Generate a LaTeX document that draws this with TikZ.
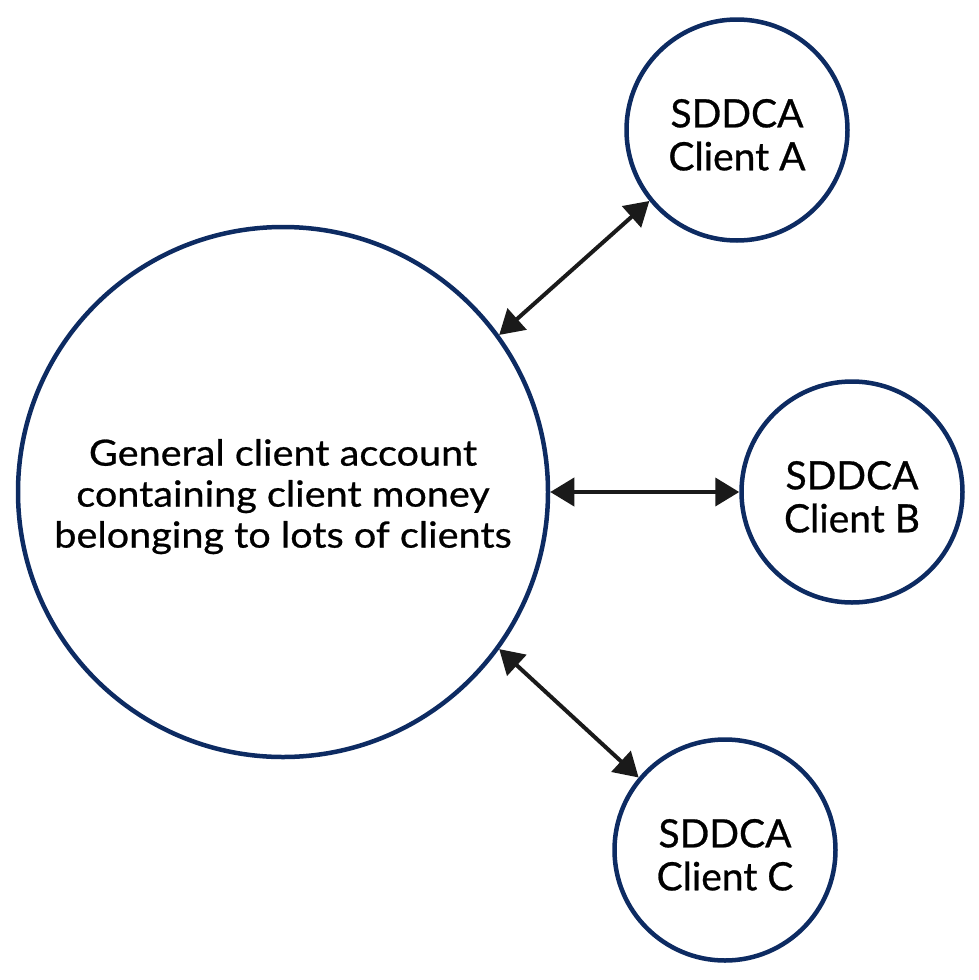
\documentclass[tikz,border=0pt]{standalone}
\usepackage{fontspec}
\setmainfont{Lato}[FakeBold=0.7]
\newfontfamily\bigtextfont{Lato}[FakeBold=0.7,FakeStretch=1.1]
\usetikzlibrary{arrows.meta}
\definecolor{navy}{HTML}{0D2B62}
\definecolor{arrowblack}{HTML}{1A1A1A}
% extra invisible height on the first line moves the text block down by half of it
\newcommand\lowertext{\rule{0pt}{\dimexpr\fontcharht\font`\l+10pt\relax}}
\begin{document}
\begin{tikzpicture}[x=1pt,y=-1pt,
  account/.style={circle, draw=navy, line width=4.5pt, inner sep=0pt, align=center, text=black},
  bigacct/.style={account, minimum size=530pt, font=\bigtextfont\fontsize{36}{41}\selectfont},
  smallacct/.style={account, minimum size=221pt, font=\fontsize{39}{43}\selectfont},
  link/.style={draw=arrowblack, line width=4pt, {Triangle[length=24pt,width=28pt]}-{Triangle[length=24pt,width=28pt]}}
]
\useasboundingbox (0,0) rectangle (979,980);
\node[bigacct] (big) at (283,492) {\lowertext General client account\\containing client money\\belonging to lots of clients};
\node[smallacct] (A) at (737,130) {\lowertext SDDCA\\Client A};
\node[smallacct] (B) at (852,492) {\lowertext SDDCA\\Client B};
\node[smallacct] (C) at (725,850) {\lowertext SDDCA\\Client C};
\draw[link] (big.36) -- (A.219);
\draw[link] (big.east) -- (B.west);
\draw[link] (big.-36.6) -- (C.140);
\end{tikzpicture}
\end{document}
